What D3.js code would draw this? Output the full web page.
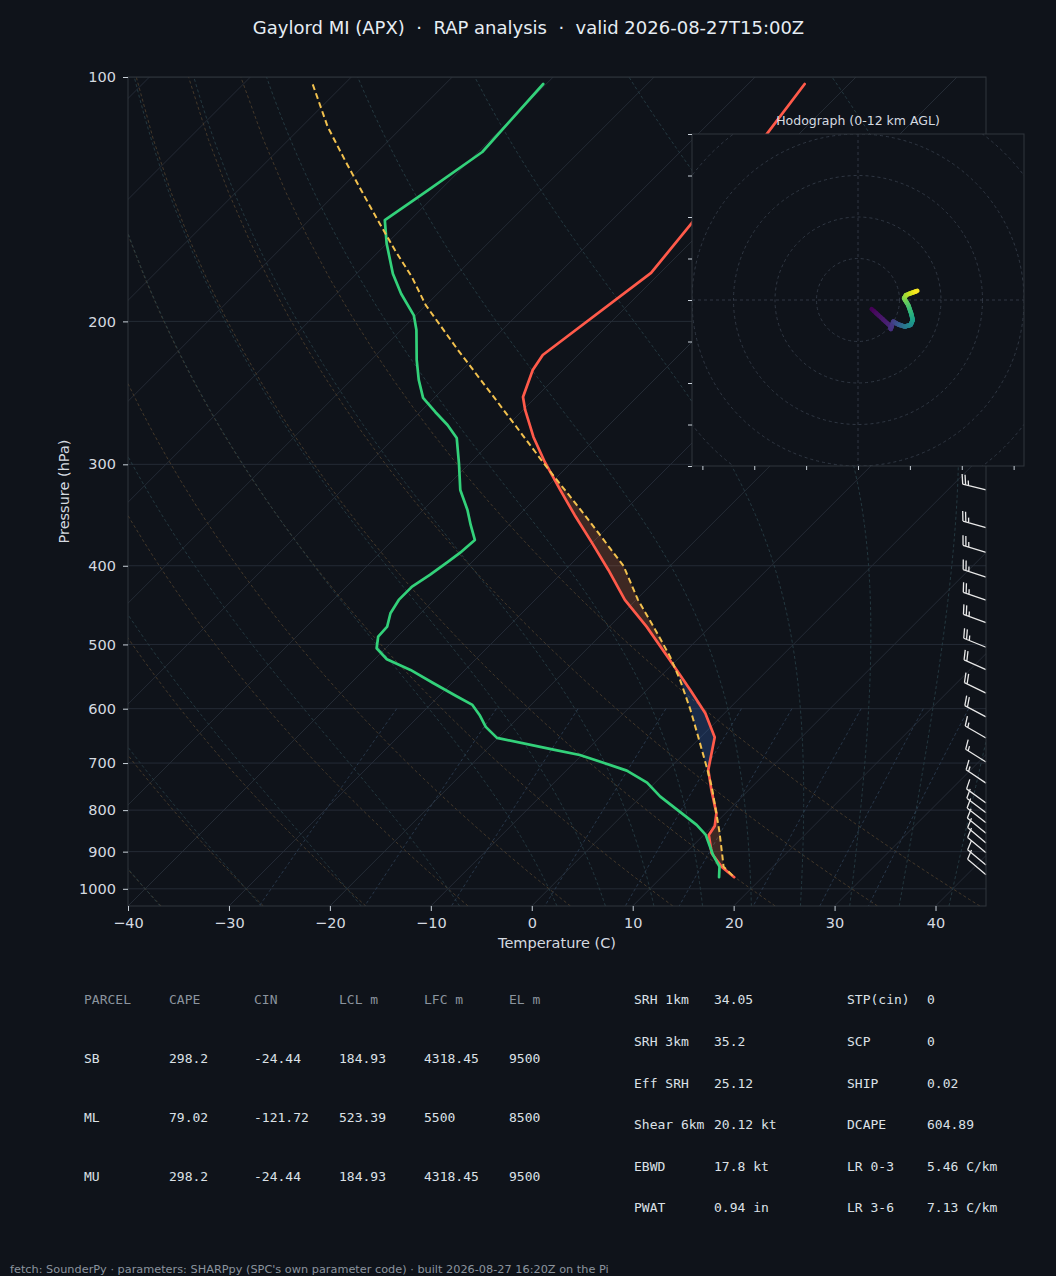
<!DOCTYPE html>
<html><head><meta charset="utf-8">
<script src="https://cdn.jsdelivr.net/npm/d3@7"></script>
<style>
html,body{margin:0;padding:0;background:#0f131a;}
svg{display:block;}
</style></head><body>
<svg id="c" width="1056" height="1276"></svg>
<script>
// ---------------- DATA ----------------
const titleText = "Gaylord MI (APX)  \u00b7  RAP analysis  \u00b7  valid 2026-08-27T15:00Z";
// environmental temperature profile (hPa, degC)
const envP = [102.0,117.5,151.3,174.3,220.0,229.6,247.8,257.1,277.6,298.0,322.6,346.3,374.9,404.8,440.7,475.4,522.5,568.9,607.8,650.5,713.7,755.5,807.1,836.7,858.3,904.2,939.1,967.6];
const envT = [-54.4,-53.2,-51.8,-50.9,-53.5,-53.0,-51.3,-49.8,-46.3,-42.7,-38.4,-34.5,-30.0,-25.7,-21.1,-16.3,-10.7,-5.7,-1.9,1.4,4.0,6.3,9.1,10.2,10.5,12.6,14.9,17.2];
// dewpoint profile
const dewP = [102.0,123.7,137.9,150.1,160.4,174.7,184.9,196.6,204.9,223.1,236.2,248.5,258.6,268.3,278.4,299.7,322.6,341.5,356.3,371.8,385.7,395.3,410.5,424.4,440.7,457.7,475.4,489.1,505.5,521.5,537.5,558.2,578.7,593.6,610.7,631.8,651.8,674.4,684.1,693.8,715.2,740.0,769.9,803.4,834.3,858.3,908.5,939.1,967.6];
const dewT = [-80.3,-79.6,-81.2,-82.5,-80.0,-76.4,-73.6,-70.2,-68.5,-65.5,-63.3,-61.1,-58.5,-56.0,-53.8,-51.0,-48.3,-45.6,-43.8,-41.9,-42.1,-42.4,-42.9,-43.5,-43.5,-43.0,-42.0,-41.9,-40.9,-38.8,-35.4,-31.8,-28.3,-25.8,-24.1,-22.3,-20.1,-13.2,-10.2,-8.2,-4.0,-0.8,1.9,5.3,8.3,10.2,12.9,14.7,15.7];
// surface-based parcel path
const parP = [102.1,115.2,126.6,137.9,150.1,163.5,176.3,191.1,216.9,247.8,273.7,301.4,346.3,400.2,440.7,479.9,517.6,553.0,602.1,649.4,707.0,748.4,807.1,854.1,912.8,939.1,967.6];
const parT = [-103.1,-97.4,-92.4,-87.8,-83.2,-78.5,-74.2,-70.0,-62.4,-54.2,-48.1,-42.2,-33.5,-24.6,-19.8,-15.1,-11.0,-7.7,-3.7,-0.3,3.5,6.0,9.1,11.4,14.0,15.1,17.2];
// wind barbs (hPa, kt, deg from)
const barbP   = [322.6,359,385,413,441,470,504,537,574,614,652,698,741,784,806,829,854,878,903,935,961];
const barbSpd = [25,25,25,25,25,25,25,20,20,20,15,15,15,10,10,10,10,10,10,10,10];
const barbDir = [284,286,287,288,289,290,292,294,296,298,300,302,304,306,307,308,309,310,310,310,310];
// hodograph (m/s) coloured by height (km)
const hodoU = [3.3,7.7,7.9,8.5,9.7,11.3,12.7,13.2,12.8,12.1,11.1,11.6,14.3];
const hodoV = [-2.2,-6.2,-7.0,-5.2,-5.9,-6.4,-6.0,-4.8,-3.2,-1.2,0.4,1.2,2.2];
const hodoZ = [0,1.2,1.6,2.0,3.0,4.5,5.5,6.5,7.5,8.5,9.5,10.2,12];
const hodoRings = [10,20,30,40,50];
const hodoXTicks = [-37.5,-25,-12.5,0,12.5,25,37.5];
const hodoYTicks = [-40,-30,-20,-10,0,10,20,30,40];
// axes ticks
const pTicks = [100,200,300,400,500,600,700,800,900,1000];
const tTicks = [-40,-30,-20,-10,0,10,20,30,40];
// background line families
const dryT0 = [-40,-30,-20,-10,0,10,20,30,40];
const moistT0 = [-40,-30,-20,-10,0,5,10,15,20,25,30,35,40,45];
const mixW = [0.0004,0.001,0.002,0.004,0.007,0.01,0.016,0.024,0.032];
// tables
const parcelHead = ["PARCEL","CAPE","CIN","LCL m","LFC m","EL m"];
const parcelRows = [
  ["SB","298.2","-24.44","184.93","4318.45","9500"],
  ["ML","79.02","-121.72","523.39","5500","8500"],
  ["MU","298.2","-24.44","184.93","4318.45","9500"]];
const paramLabelsL = ["SRH 1km","SRH 3km","Eff SRH","Shear 6km","EBWD","PWAT"];
const paramValuesL = ["34.05","35.2","25.12","20.12 kt","17.8 kt","0.94 in"];
const paramLabelsR = ["STP(cin)","SCP","SHIP","DCAPE","LR 0-3","LR 3-6"];
const paramValuesR = ["0","0","0.02","604.89","5.46 C/km","7.13 C/km"];
const footerText = "fetch: SounderPy \u00b7 parameters: SHARPpy (SPC's own parameter code) \u00b7 built 2026-08-27 16:20Z on the Pi";

// ---------------- STYLE / LAYOUT ----------------
const BG = "#0f131a", SPINE = "#30363d", TXT = "#d5dae0", TICK = "#c9d1d9";
const GRID = "#272e39", DRY = "#4a3c2b", MOIST = "#263c44", MIX = "#2a3b4f";
const RED = "#ff5a4a", GREEN = "#33d17a", YEL = "#f2c14e";
const FONT = "DejaVu Sans, sans-serif", MONO = "DejaVu Sans Mono, monospace";
const L = 128, R = 986, T = 77, B = 906;

const svg = d3.select("#c");
svg.append("rect").attr("width",1056).attr("height",1276).attr("fill",BG);

const x = d3.scaleLinear().domain([-40,45]).range([L,R]);
const y = d3.scaleLog().domain([1050,100]).range([B,T]);
const sx = (t,p) => x(t) + (B - y(p));   // 45 degree skew

const defs = svg.append("defs");
defs.append("clipPath").attr("id","plotclip").append("rect")
  .attr("x",L).attr("y",T).attr("width",R-L).attr("height",B-T);

const plot = svg.append("g").attr("clip-path","url(#plotclip)");
const skewLine = d3.line().x(d=>sx(d[1],d[0])).y(d=>y(d[0]));

// isotherms
d3.range(-130,50,10).forEach(t=>{
  plot.append("path").attr("d",skewLine([[1050,t],[100,t]]))
    .attr("stroke",GRID).attr("stroke-width",0.9).attr("fill","none");
});
// isobars
pTicks.forEach(p=>{
  plot.append("line").attr("x1",L).attr("x2",R).attr("y1",y(p)).attr("y2",y(p))
    .attr("stroke",GRID).attr("stroke-width",0.9);
});
// dry adiabats
const linP = d3.range(50).map(i=>1050+(100-1050)*i/49);
dryT0.forEach(t0=>{
  const pts = linP.map(p=>[p,(t0+273.15)*Math.pow(p/1000,0.2857)-273.15]);
  plot.append("path").attr("d",skewLine(pts)).attr("fill","none")
    .attr("stroke",DRY).attr("stroke-width",0.9).attr("stroke-dasharray","3,2.5");
});
// moist adiabats (numerical integration of moist lapse rate)
const Rd=287.04749, Cp=1004.6662, Lv=2.50084e6, eps=0.621957;
const esat = tK => { const c=tK-273.15; return 6.112*Math.exp(17.67*c/(c+243.5)); };
const rsat = (p,tK) => { const e=esat(tK); return eps*e/(p-e); };
const dTdp = (p,t) => { const rs=rsat(p,t); return ((Rd*t+Lv*rs)/(Cp+(Lv*Lv*rs*eps/(Rd*t*t))))/p; };
function integ(t0K, p0, p1, dp){
  const out=[[p0,t0K-273.15]]; let p=p0, t=t0K; const n=Math.round(Math.abs(p1-p0)/Math.abs(dp));
  for(let i=0;i<n;i++){
    const k1=dTdp(p,t), k2=dTdp(p+dp/2,t+dp/2*k1), k3=dTdp(p+dp/2,t+dp/2*k2), k4=dTdp(p+dp,t+dp*k3);
    t += dp/6*(k1+2*k2+2*k3+k4); p += dp;
    if(i%3===2||i===n-1) out.push([p,t-273.15]);
  }
  return out;
}
moistT0.forEach(t0=>{
  const down = integ(t0+273.15,1000,1050,2).reverse();
  const up = integ(t0+273.15,1000,100,-2);
  plot.append("path").attr("d",skewLine(down.concat(up.slice(1)))).attr("fill","none")
    .attr("stroke",MOIST).attr("stroke-width",0.9).attr("stroke-dasharray","3,2.5");
});
// mixing ratio lines
const mixP = d3.range(50).map(i=>600+(1050-600)*i/49);
mixW.forEach(w=>{
  const pts = mixP.map(p=>{ const e=p*w/(eps+w); const l=Math.log(e/6.112); return [p,243.5*l/(17.67-l)]; });
  plot.append("path").attr("d",skewLine(pts)).attr("fill","none")
    .attr("stroke",MIX).attr("stroke-width",0.9).attr("stroke-dasharray","3,2.5");
});

// CAPE / CIN shading
function profileFn(P,Tv){
  const idx = d3.range(P.length).sort((a,b)=>P[a]-P[b]);
  const s = d3.scaleLinear().domain(idx.map(i=>Math.log(P[i]))).range(idx.map(i=>Tv[i])).clamp(true);
  return p=>s(Math.log(p));
}
const fEnv = profileFn(envP,envT), fPar = profileFn(parP,parT);
const pBot = Math.min(d3.max(envP),d3.max(parP)), pTop = Math.max(d3.min(envP),d3.min(parP));
const N = 1200;
const ps = d3.range(N+1).map(i=>Math.exp(Math.log(pBot)+(Math.log(pTop)-Math.log(pBot))*i/N));
const te = ps.map(fEnv), tp = ps.map(fPar), df = ps.map((p,i)=>tp[i]-te[i]);
let elIdx = 0; df.forEach((d,i)=>{ if(d>0) elIdx=i; });
function shade(test, color){
  let i=0;
  while(i<=N){
    if(test(i)){
      let j=i; while(j+1<=N && test(j+1)) j++;
      const a=Math.max(0,i-1), b=Math.min(N,j+1);
      const pts=[];
      for(let k=a;k<=b;k++) pts.push([sx(te[k],ps[k]),y(ps[k])]);
      for(let k=b;k>=a;k--) pts.push([sx(tp[k],ps[k]),y(ps[k])]);
      plot.append("path").attr("d","M"+pts.join("L")+"Z").attr("fill",color).attr("stroke","none");
      i=j+1;
    } else i++;
  }
}
shade(i=>df[i]>0, "rgba(230,120,70,0.22)");
shade(i=>df[i]<0 && i<elIdx, "rgba(70,130,240,0.22)");

// profiles
const prof = (P,Tv) => P.map((p,i)=>[p,Tv[i]]);
plot.append("path").attr("d",skewLine(prof(envP,envT))).attr("fill","none")
  .attr("stroke",RED).attr("stroke-width",2.7).attr("stroke-linejoin","round").attr("stroke-linecap","round");
plot.append("path").attr("d",skewLine(prof(dewP,dewT))).attr("fill","none")
  .attr("stroke",GREEN).attr("stroke-width",2.7).attr("stroke-linejoin","round").attr("stroke-linecap","round");
plot.append("path").attr("d",skewLine(prof(parP,parT))).attr("fill","none")
  .attr("stroke",YEL).attr("stroke-width",2).attr("stroke-dasharray","6,3.5");

// wind barbs
function barbPath(bx,by,spd,dir,Ln){
  const H=0.4*Ln, W=0.25*Ln, SP=0.125*Ln, r=dir*Math.PI/180;
  const s=[Math.sin(r),-Math.cos(r)], f=[Math.cos(r),Math.sin(r)];
  const pt=(a,b)=>[bx+f[0]*a+s[0]*b, by+f[1]*a+s[1]*b];
  let d=`M${pt(0,0)}L${pt(0,Ln)}`;
  let rem=Math.round(spd/5)*5;
  const nflag=Math.floor(rem/50); rem-=nflag*50;
  const nfull=Math.floor(rem/10); rem-=nfull*10;
  const half=rem>=5;
  let o=Ln;
  for(let i=0;i<nflag;i++){ d+=`M${pt(0,o)}L${pt(H,o-W/2)}L${pt(0,o-W)}Z`; o-=W+SP; }
  for(let i=0;i<nfull;i++){ d+=`M${pt(0,o)}L${pt(H,o+W/2)}`; o-=SP; }
  if(half){ if(o===Ln) o-=1.5*SP; d+=`M${pt(0,o)}L${pt(H/2,o+W/4)}`; }
  return d;
}
barbP.forEach((p,i)=>{
  svg.append("path").attr("d",barbPath(R,y(p),barbSpd[i],barbDir[i],24))
    .attr("fill","#e8e8e8").attr("stroke","#e8e8e8").attr("stroke-width",1.3).attr("fill-opacity",0);
});

// spines
svg.append("rect").attr("x",L).attr("y",T).attr("width",R-L).attr("height",B-T)
  .attr("fill","none").attr("stroke",SPINE).attr("stroke-width",1);

// axes
const gy = svg.append("g").attr("transform",`translate(${L},0)`)
  .call(d3.axisLeft(y).tickValues(pTicks).tickFormat(d3.format("d")).tickSize(5).tickPadding(7));
const gx = svg.append("g").attr("transform",`translate(0,${B})`)
  .call(d3.axisBottom(x).tickValues(tTicks).tickSize(5).tickPadding(6.5));
[gy,gx].forEach(g=>{
  g.select(".domain").remove();
  g.attr("font-family",FONT).attr("font-size",14.5);
  g.selectAll("line").attr("stroke",TICK);
  g.selectAll("text").attr("fill",TXT);
});
svg.append("text").attr("x",(L+R)/2).attr("y",948).attr("text-anchor","middle")
  .attr("font-family",FONT).attr("font-size",14.5).attr("fill",TXT).text("Temperature (C)");
svg.append("text").attr("transform",`translate(68.5,${(T+B)/2}) rotate(-90)`).attr("text-anchor","middle")
  .attr("font-family",FONT).attr("font-size",14.5).attr("fill",TXT).text("Pressure (hPa)");

// title
svg.append("text").attr("x",528.5).attr("y",33.5).attr("text-anchor","middle")
  .attr("xml:space","preserve").style("white-space","pre")
  .attr("font-family",FONT).attr("font-size",18).attr("fill","#e6edf3").text(titleText);

// ---------------- HODOGRAPH ----------------
const HL=692, HR=1024, HT=134, HB=466;
const hu = d3.scaleLinear().domain([-40,40]).range([HL,HR]);
const hv = d3.scaleLinear().domain([-40,40]).range([HB,HT]);
const hg = svg.append("g");
hg.append("rect").attr("x",HL).attr("y",HT).attr("width",HR-HL).attr("height",HB-HT).attr("fill",BG);
defs.append("clipPath").attr("id","hclip").append("rect")
  .attr("x",HL).attr("y",HT).attr("width",HR-HL).attr("height",HB-HT);
const hc = hg.append("g").attr("clip-path","url(#hclip)");
hodoRings.forEach(r=>{
  hc.append("circle").attr("cx",hu(0)).attr("cy",hv(0)).attr("r",hu(r)-hu(0))
    .attr("fill","none").attr("stroke","#333b47").attr("stroke-width",0.9).attr("stroke-dasharray","3,3");
});
hc.append("line").attr("x1",HL).attr("x2",HR).attr("y1",hv(0)).attr("y2",hv(0))
  .attr("stroke","#333b47").attr("stroke-width",0.9).attr("stroke-dasharray","3,3");
hc.append("line").attr("y1",HT).attr("y2",HB).attr("x1",hu(0)).attr("x2",hu(0))
  .attr("stroke","#333b47").attr("stroke-width",0.9).attr("stroke-dasharray","3,3");
const zMax = d3.max(hodoZ);
const color = z => d3.interpolateViridis(z/zMax);
for(let i=0;i<hodoU.length-1;i++){
  const sub=8;
  for(let k=0;k<sub;k++){
    const a=k/sub, b=(k+1)/sub;
    const u0=hodoU[i]+(hodoU[i+1]-hodoU[i])*a, v0=hodoV[i]+(hodoV[i+1]-hodoV[i])*a;
    const u1=hodoU[i]+(hodoU[i+1]-hodoU[i])*b, v1=hodoV[i]+(hodoV[i+1]-hodoV[i])*b;
    const zc=hodoZ[i]+(hodoZ[i+1]-hodoZ[i])*(a+b)/2;
    hc.append("line").attr("x1",hu(u0)).attr("y1",hv(v0)).attr("x2",hu(u1)).attr("y2",hv(v1))
      .attr("stroke",color(zc)).attr("stroke-width",4.5).attr("stroke-linecap","round");
  }
}
hg.append("rect").attr("x",HL).attr("y",HT).attr("width",HR-HL).attr("height",HB-HT)
  .attr("fill","none").attr("stroke",SPINE).attr("stroke-width",1);
const hy = hg.append("g").attr("transform",`translate(${HL},0)`)
  .call(d3.axisLeft(hv).tickValues(hodoYTicks).tickFormat("").tickSize(4));
const hx = hg.append("g").attr("transform",`translate(0,${HB})`)
  .call(d3.axisBottom(hu).tickValues(hodoXTicks).tickFormat("").tickSize(4));
[hy,hx].forEach(g=>{ g.select(".domain").remove(); g.selectAll("line").attr("stroke",TICK); });
hg.append("text").attr("x",(HL+HR)/2).attr("y",124.5).attr("text-anchor","middle")
  .attr("font-family",FONT).attr("font-size",12.5).attr("fill",TXT).text("Hodograph (0-12 km AGL)");

// ---------------- TABLES ----------------
const colX = [84,169,254,339,424,509];
const rowY = [999,1058,1117,1176];
parcelHead.forEach((h,j)=>{
  svg.append("text").attr("x",colX[j]).attr("y",rowY[0]+4.5).attr("font-family",MONO)
    .attr("font-size",13).attr("fill","#8b949e").text(h);
});
parcelRows.forEach((row,i)=>row.forEach((v,j)=>{
  svg.append("text").attr("x",colX[j]).attr("y",rowY[i+1]+4.5).attr("font-family",MONO)
    .attr("font-size",13).attr("fill","#dce1e7").text(v);
}));
const pRowY = [999,1041,1083,1124,1166,1207];
const pCols = [[634,paramLabelsL],[714,paramValuesL],[847,paramLabelsR],[927,paramValuesR]];
pCols.forEach(([cx,arr])=>arr.forEach((v,i)=>{
  svg.append("text").attr("x",cx).attr("y",pRowY[i]+4.5).attr("font-family",MONO)
    .attr("font-size",13).attr("fill","#dce1e7").style("white-space","pre").text(v);
}));

// footer
svg.append("text").attr("x",10).attr("y",1273).attr("font-family",FONT).attr("font-size",11.3)
  .attr("fill","#8b949e").text(footerText);
</script>
</body></html>
